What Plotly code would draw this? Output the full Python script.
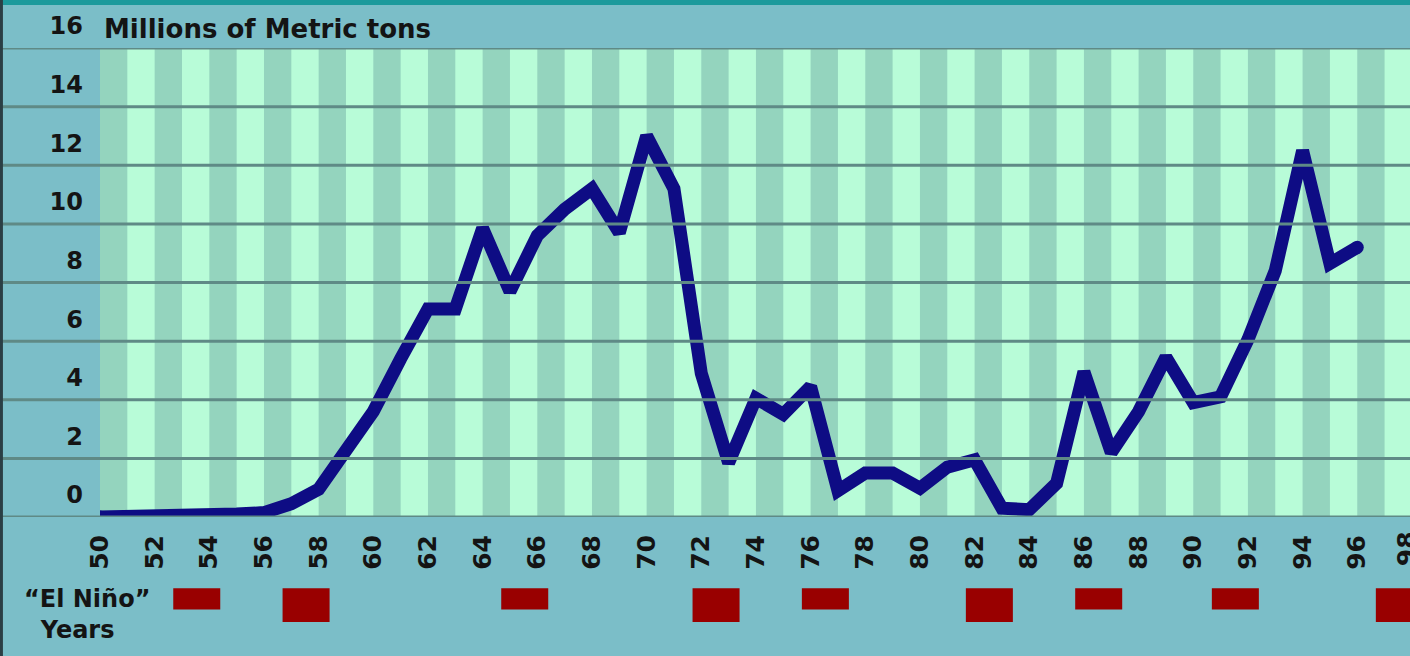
import plotly.graph_objects as go

# Annual catch, millions of metric tons
years = list(range(1950, 1997))
catch = [
    0.0, 0.0, 0.02, 0.05, 0.07, 0.1, 0.15, 0.45, 0.95, 2.2,
    3.6, 5.4, 7.1, 7.1, 9.85, 7.7, 9.6, 10.5, 11.2, 9.7,
    13.0, 11.2, 4.9, 1.85, 4.05, 3.5, 4.45, 0.9, 1.5, 1.5,
    0.98, 1.7, 1.95, 0.3, 0.25, 1.15, 4.95, 2.2, 3.6, 5.45,
    3.9, 4.1, 6.05, 8.4, 12.5, 8.65, 9.2,
]

# El Niño events and whether each was a strong one
nino_years = [1953, 1957, 1965, 1972, 1976, 1982, 1986, 1991, 1997]
nino_strong = [False, True, False, True, False, True, False, False, True]

y_ticks = [0, 2, 4, 6, 8, 10, 12, 14, 16]
x_ticks = list(range(1950, 1998, 2))
x_ticktext = [f"{y % 100:02d}" for y in x_ticks]

BG = "#7bbec8"
STRIPE_LIGHT = "#b8fcd8"
STRIPE_DARK = "#94d4be"
GRID = "#5f8a86"
LINE = "#0e0c84"
RED = "#990000"
INK = "#141414"
FONT = "DejaVu Sans"

fig = go.Figure()

fig.add_trace(go.Scatter(
    x=years, y=catch, mode="lines",
    line=dict(color=LINE, width=13),
    hoverinfo="skip", showlegend=False,
))
# round off the two ends of the line
fig.add_trace(go.Scatter(
    x=[years[0], years[-1]], y=[catch[0], catch[-1]], mode="markers",
    marker=dict(color=LINE, size=13, line=dict(width=0)),
    hoverinfo="skip", showlegend=False,
))

shapes = []
# alternating year stripes
for yr in range(1950, 1998, 2):
    shapes.append(dict(type="rect", xref="x", yref="paper", x0=yr, x1=yr + 1,
                       y0=0, y1=1, fillcolor=STRIPE_DARK, line_width=0, layer="below"))
# horizontal rules running across the label column as well
for v in y_ticks:
    shapes.append(dict(type="line", xref="paper", yref="y", x0=-0.08, x1=1,
                       y0=v, y1=v, line=dict(color=GRID, width=3), layer="above"))
# El Niño markers below the axis
for yr, strong in zip(nino_years, nino_strong):
    shapes.append(dict(type="rect", xref="x", yref="paper", x0=yr - 0.32, x1=yr + 1.4,
                       y0=-0.152, y1=-0.224 if strong else -0.197,
                       fillcolor=RED, line_width=0))
# dark band along the top edge and the left border
shapes.append(dict(type="rect", xref="paper", yref="paper", x0=-0.08, x1=1.01,
                   y0=1.0917, y1=1.12, fillcolor="#1c9a9c", line_width=0))
shapes.append(dict(type="rect", xref="paper", yref="paper", x0=-0.08, x1=-0.0741,
                   y0=-0.4, y1=1.12, fillcolor="#2b3f45", line_width=0))

annotations = [
    dict(text="Millions of Metric tons", xref="paper", yref="y", x=0.0015, y=16,
         xanchor="left", yanchor="middle", yshift=19, showarrow=False,
         font=dict(family=FONT, size=26, color=INK, weight="bold")),
    dict(text="“El Niño”<br>&nbsp;&nbsp;Years", xref="paper", yref="paper", x=-0.0595, y=-0.14,
         xanchor="left", yanchor="top", align="left", showarrow=False,
         font=dict(family=FONT, size=24, color=INK, weight="bold")),
    dict(text="98", xref="paper", yref="paper", x=1, y=-0.027, xanchor="center",
         yanchor="top", xshift=-4, textangle=-90, showarrow=False,
         font=dict(family=FONT, size=25, color=INK, weight="bold")),
]

fig.update_layout(
    width=1410, height=656,
    margin=dict(l=100, r=0, t=48, b=139, pad=0),
    paper_bgcolor=BG, plot_bgcolor=STRIPE_LIGHT,
    shapes=shapes, annotations=annotations,
    showlegend=False,
    xaxis=dict(range=[1950, 1997.93], tickvals=x_ticks, ticktext=x_ticktext,
               tickangle=-90, showgrid=False, zeroline=False, showline=False,
               ticks="", ticklabelstandoff=12, fixedrange=True,
               tickfont=dict(family=FONT, size=25, color=INK, weight="bold")),
    yaxis=dict(range=[0, 16], tickvals=y_ticks, showgrid=False, zeroline=False,
               showline=False, ticks="", ticklabelshift=-22, ticklabelstandoff=16,
               fixedrange=True,
               tickfont=dict(family=FONT, size=24, color=INK, weight="bold")),
)

fig.write_html("out.html")
